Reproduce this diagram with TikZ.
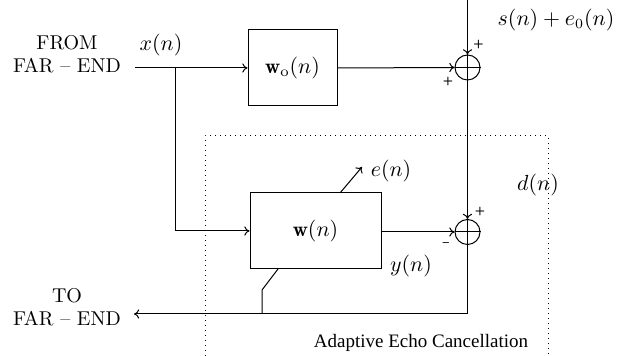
\documentclass[tikz,border=0pt]{standalone}
\usepackage{fontspec}
\newfontfamily\capfont{Liberation Serif}
\usetikzlibrary{arrows.meta}
\begin{document}
\begin{tikzpicture}[x=0.5pt,y=-0.5pt,line width=0.5pt,
  arr/.style={-{To[length=2.6pt,width=4.6pt]}},
  blk/.style={draw,minimum width=44.5pt,minimum height=38pt,inner sep=0pt,font=\fontsize{10.5}{12}\selectfont},
  wblk/.style={draw,minimum width=65.5pt,minimum height=38pt,inner sep=0pt,font=\fontsize{10.5}{12}\selectfont},
  sum/.style={draw,circle,minimum size=12.5pt,inner sep=0pt},
  lbl/.style={inner sep=0pt,font=\fontsize{10.5}{12}\selectfont},
  txt/.style={inner sep=0pt,align=center,font=\fontsize{10}{11.5}\selectfont},
  sgn/.style={inner sep=0pt,font=\sffamily\bfseries\fontsize{6}{6}\selectfont},
  frame/.style={dotted,line width=0.5pt}]
\useasboundingbox (0,0) rectangle (626,356);
% nodes
\node[txt] (from) at (67,54) {FROM\\FAR -- END};
\node[txt] (to) at (67,307) {TO\\FAR -- END};
\node[blk] (wo) at (292.5,68) {$\mathbf{w}_{\rm o}(n)$};
\node[wblk] (w) at (315.5,231) {$\mathbf{w}(n)$};
\node[sum] (s1) at (467.5,67.5) {};
\node[sum] (s2) at (467.5,232) {};
\draw (s1.north)--(s1.south) (s1.west)--(s1.east);
\draw (s2.north)--(s2.south) (s2.west)--(s2.east);
% coordinates
\coordinate (in) at (135,68);
\coordinate (br) at (175,68);
\coordinate (top) at (467.5,0);
\coordinate (out) at (134,314);
\coordinate (corner) at (467.5,314);
\coordinate (ea) at (340,193);
\coordinate (eb) at (362,167);
\coordinate (da) at (278,269);
\coordinate (db) at (262,290);
\coordinate (dc) at (262,314);
% connectors
\draw[arr] (in) -- (wo.west);
\draw[arr] (br) |- (w.west);
\draw[arr] (wo.east) -- (s1.west);
\draw[arr] (top) -- (s1.north);
\draw[arr] (s1.south) -- (s2.north);
\draw[arr] (w.east |- s2) -- (s2.west);
\draw[arr] (s2.south) -- (corner) -- (out);
\draw[arr] (ea) -- (eb);
\draw (da) -- (db) -- (dc);
% labels
\node[lbl] (xn) at (161,45) {$x(n)$};
\node[lbl] (se) at (556,20) {$s(n)+e_0(n)$};
\node[lbl] (dn) at (538,185) {$d(n)$};
\node[lbl] (en) at (391,171) {$e(n)$};
\node[lbl] (yn) at (411,266) {$y(n)$};
\node[sgn] (p1) at (478.5,45) {+};
\node[sgn] (p2) at (448,82) {+};
\node[sgn] (p3) at (480,212) {+};
\node[sgn] (m1) at (446,245) {--};
% frame
\draw[frame] (205,356) -- (205,136) -- (548,136) -- (548,356);
\node[inner sep=0pt,font=\capfont\fontsize{9.5}{11}\selectfont] (cap) at (421,343) {Adaptive Echo Cancellation};
\end{tikzpicture}
\end{document}
